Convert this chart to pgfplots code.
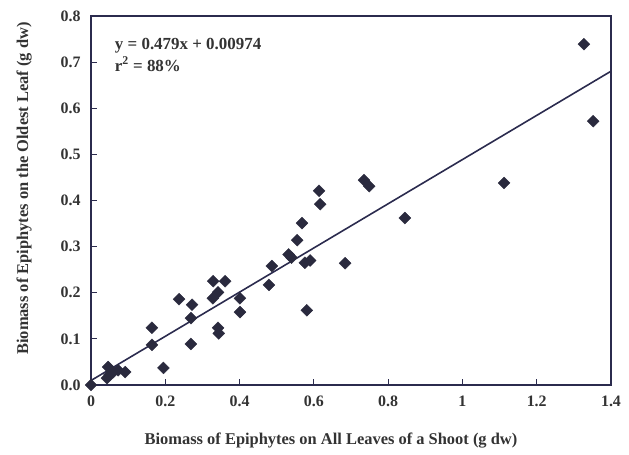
\documentclass[border=0pt]{standalone}
\usepackage{pgfplots}
\pgfplotsset{compat=1.18}
\usepackage{fontspec}
\setmainfont{Liberation Serif}
\definecolor{axisnavy}{HTML}{2B2B4E}
\definecolor{markdark}{HTML}{2A2A3E}
\definecolor{txt}{HTML}{333333}

\begin{document}
\begin{tikzpicture}
\useasboundingbox (-91bp,-70bp) rectangle (538bp,385bp);
\begin{axis}[
    scale only axis,
    width=520bp, height=369bp,
    xmin=0, xmax=1.4, ymin=0, ymax=0.8,
    xtick={0,0.2,...,1.4},
    ytick={0,0.1,...,0.8},
    xticklabels={0,0.2,0.4,0.6,0.8,1,1.2,1.4},
    yticklabel style={/pgf/number format/fixed,/pgf/number format/fixed zerofill,/pgf/number format/precision=1},
    /pgf/number format/assume math mode=true,
    tick align=inside,
    xtick pos=bottom, ytick pos=left,
    major tick length=6bp,
    axis line style={axisnavy, line width=1.6pt},
    tick style={axisnavy, line width=1.2pt},
    ticklabel style={font=\fontsize{16}{18}\selectfont\bfseries, text=txt},
    xticklabel style={yshift=-7bp},
    yticklabel style={xshift=-7bp},
    xlabel={Biomass of Epiphytes on All Leaves of a Shoot (g dw)},
    ylabel={Biomass of Epiphytes on the Oldest Leaf (g dw)},
    label style={font=\fontsize{16.5}{18}\selectfont\bfseries, text=txt},
    xlabel style={yshift=-20bp, xshift=-20bp},
    ylabel style={yshift=22bp, xshift=12bp},
    clip=false,
]
\addplot[only marks, mark=square*, mark size=4.2bp, mark options={rotate=45}, color=markdark] coordinates {
(0,0) (0.043,0.015) (0.046,0.039) (0.050,0.022) (0.060,0.028) (0.073,0.032) (0.092,0.028)
(0.164,0.124) (0.164,0.087) (0.195,0.037)
(0.237,0.186) (0.272,0.174) (0.269,0.145) (0.269,0.089)
(0.329,0.225) (0.361,0.225) (0.342,0.201) (0.328,0.188)
(0.342,0.124) (0.344,0.112)
(0.401,0.188) (0.401,0.158)
(0.479,0.217) (0.487,0.258)
(0.532,0.283) (0.540,0.276) (0.555,0.314) (0.568,0.351)
(0.576,0.265) (0.590,0.270) (0.581,0.162)
(0.614,0.421) (0.617,0.392)
(0.684,0.264)
(0.735,0.444) (0.749,0.431)
(0.845,0.362)
(1.112,0.438)
(1.327,0.739) (1.352,0.572)
};
\addplot[axisnavy, line width=1.6pt] coordinates {(0,0.00974) (1.4,0.68034)};
\node[anchor=north west, align=left, text=txt, font=\fontsize{17}{22}\selectfont\bfseries]
  at (axis cs:0.055,0.76) {y = 0.479x + 0.00974\\r$^{\mathbf{2}}$ = 88\%};
\end{axis}
\end{tikzpicture}
\end{document}
